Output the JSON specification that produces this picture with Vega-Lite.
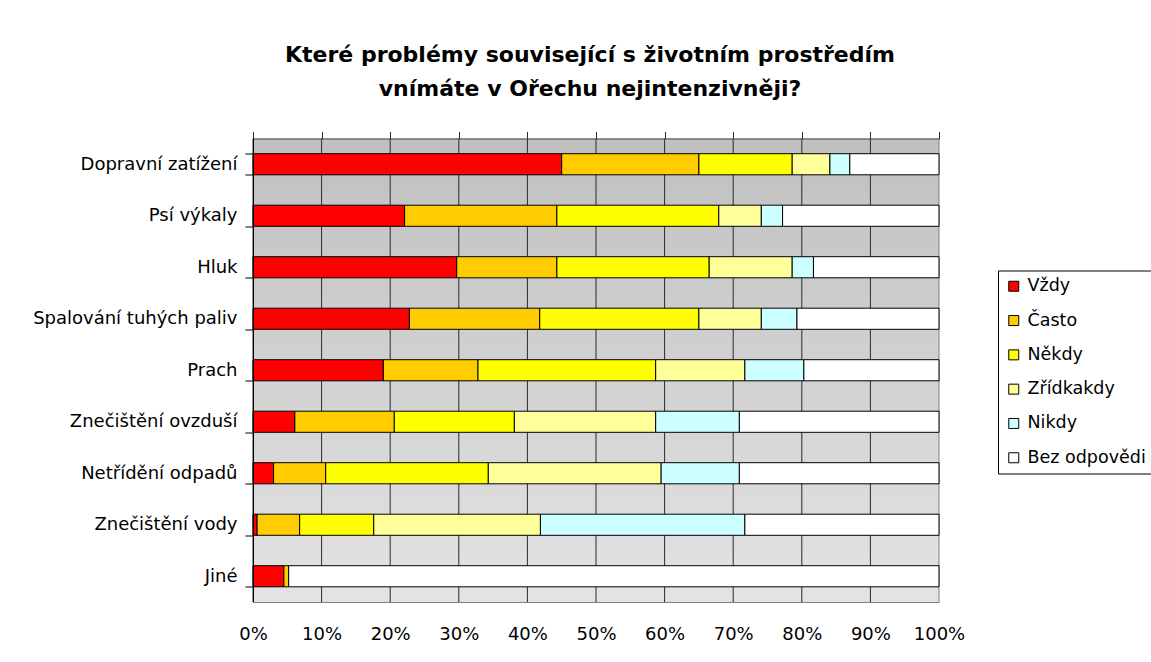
{
  "$schema": "https://vega.github.io/schema/vega-lite/v6.json",
  "width": 686,
  "height": 463.5,
  "autosize": {"type": "none"},
  "padding": {"left": 253, "top": 138.5, "right": 212, "bottom": 60},
  "background": "white",
  "title": {
    "text": ["Které problémy související s životním prostředím", "vnímáte v Ořechu nejintenzivněji?"],
    "font": "DejaVu Sans",
    "fontSize": 22,
    "fontWeight": "bold",
    "color": "black",
    "anchor": "middle",
    "frame": "group",
    "lineHeight": 34,
    "offset": 29,
    "dx": -6
  },
  "datasets": {
    "answers": [
      {"problem": "Dopravní zatížení", "resp": "Vždy", "ord": 1, "value": 45.0},
      {"problem": "Dopravní zatížení", "resp": "Často", "ord": 2, "value": 20.0},
      {"problem": "Dopravní zatížení", "resp": "Někdy", "ord": 3, "value": 13.6},
      {"problem": "Dopravní zatížení", "resp": "Zřídkakdy", "ord": 4, "value": 5.5},
      {"problem": "Dopravní zatížení", "resp": "Nikdy", "ord": 5, "value": 2.9},
      {"problem": "Dopravní zatížení", "resp": "Bez odpovědi", "ord": 6, "value": 13.0},
      {"problem": "Psí výkaly", "resp": "Vždy", "ord": 1, "value": 22.1},
      {"problem": "Psí výkaly", "resp": "Často", "ord": 2, "value": 22.2},
      {"problem": "Psí výkaly", "resp": "Někdy", "ord": 3, "value": 23.6},
      {"problem": "Psí výkaly", "resp": "Zřídkakdy", "ord": 4, "value": 6.2},
      {"problem": "Psí výkaly", "resp": "Nikdy", "ord": 5, "value": 3.1},
      {"problem": "Psí výkaly", "resp": "Bez odpovědi", "ord": 6, "value": 22.8},
      {"problem": "Hluk", "resp": "Vždy", "ord": 1, "value": 29.7},
      {"problem": "Hluk", "resp": "Často", "ord": 2, "value": 14.6},
      {"problem": "Hluk", "resp": "Někdy", "ord": 3, "value": 22.2},
      {"problem": "Hluk", "resp": "Zřídkakdy", "ord": 4, "value": 12.1},
      {"problem": "Hluk", "resp": "Nikdy", "ord": 5, "value": 3.1},
      {"problem": "Hluk", "resp": "Bez odpovědi", "ord": 6, "value": 18.3},
      {"problem": "Spalování tuhých paliv", "resp": "Vždy", "ord": 1, "value": 22.8},
      {"problem": "Spalování tuhých paliv", "resp": "Často", "ord": 2, "value": 19.0},
      {"problem": "Spalování tuhých paliv", "resp": "Někdy", "ord": 3, "value": 23.2},
      {"problem": "Spalování tuhých paliv", "resp": "Zřídkakdy", "ord": 4, "value": 9.1},
      {"problem": "Spalování tuhých paliv", "resp": "Nikdy", "ord": 5, "value": 5.2},
      {"problem": "Spalování tuhých paliv", "resp": "Bez odpovědi", "ord": 6, "value": 20.7},
      {"problem": "Prach", "resp": "Vždy", "ord": 1, "value": 19.0},
      {"problem": "Prach", "resp": "Často", "ord": 2, "value": 13.8},
      {"problem": "Prach", "resp": "Někdy", "ord": 3, "value": 25.9},
      {"problem": "Prach", "resp": "Zřídkakdy", "ord": 4, "value": 13.0},
      {"problem": "Prach", "resp": "Nikdy", "ord": 5, "value": 8.6},
      {"problem": "Prach", "resp": "Bez odpovědi", "ord": 6, "value": 19.7},
      {"problem": "Znečištění ovzduší", "resp": "Vždy", "ord": 1, "value": 6.1},
      {"problem": "Znečištění ovzduší", "resp": "Často", "ord": 2, "value": 14.5},
      {"problem": "Znečištění ovzduší", "resp": "Někdy", "ord": 3, "value": 17.5},
      {"problem": "Znečištění ovzduší", "resp": "Zřídkakdy", "ord": 4, "value": 20.6},
      {"problem": "Znečištění ovzduší", "resp": "Nikdy", "ord": 5, "value": 12.2},
      {"problem": "Znečištění ovzduší", "resp": "Bez odpovědi", "ord": 6, "value": 29.1},
      {"problem": "Netřídění odpadů", "resp": "Vždy", "ord": 1, "value": 3.0},
      {"problem": "Netřídění odpadů", "resp": "Často", "ord": 2, "value": 7.6},
      {"problem": "Netřídění odpadů", "resp": "Někdy", "ord": 3, "value": 23.7},
      {"problem": "Netřídění odpadů", "resp": "Zřídkakdy", "ord": 4, "value": 25.2},
      {"problem": "Netřídění odpadů", "resp": "Nikdy", "ord": 5, "value": 11.4},
      {"problem": "Netřídění odpadů", "resp": "Bez odpovědi", "ord": 6, "value": 29.1},
      {"problem": "Znečištění vody", "resp": "Vždy", "ord": 1, "value": 0.6},
      {"problem": "Znečištění vody", "resp": "Často", "ord": 2, "value": 6.2},
      {"problem": "Znečištění vody", "resp": "Někdy", "ord": 3, "value": 10.8},
      {"problem": "Znečištění vody", "resp": "Zřídkakdy", "ord": 4, "value": 24.3},
      {"problem": "Znečištění vody", "resp": "Nikdy", "ord": 5, "value": 29.8},
      {"problem": "Znečištění vody", "resp": "Bez odpovědi", "ord": 6, "value": 28.3},
      {"problem": "Jiné", "resp": "Vždy", "ord": 1, "value": 4.5},
      {"problem": "Jiné", "resp": "Často", "ord": 2, "value": 0.7},
      {"problem": "Jiné", "resp": "Bez odpovědi", "ord": 6, "value": 94.8}
    ],
    "gridlines": [
      {"t": 0}, {"t": 0.1}, {"t": 0.2}, {"t": 0.3}, {"t": 0.4}, {"t": 0.5},
      {"t": 0.6}, {"t": 0.7}, {"t": 0.8}, {"t": 0.9}
    ],
    "rightedge": [{"t": 1}],
    "plotarea": [{"name": "plot"}]
  },
  "layer": [
    {
      "data": {"name": "plotarea"},
      "mark": {
        "type": "rect",
        "fill": {
          "gradient": "linear",
          "x1": 0, "y1": 0, "x2": 0, "y2": 1,
          "stops": [
            {"offset": 0, "color": "#C0C0C0"},
            {"offset": 1, "color": "#E3E3E3"}
          ]
        }
      },
      "encoding": {}
    },
    {
      "data": {"name": "gridlines"},
      "mark": {"type": "rule", "color": "#2A2A2A", "strokeWidth": 1},
      "encoding": {
        "x": {
          "field": "t",
          "type": "quantitative",
          "scale": {"domain": [0, 1], "nice": false},
          "axis": {
            "orient": "top",
            "values": [0, 0.1, 0.2, 0.3, 0.4, 0.5, 0.6, 0.7, 0.8, 0.9, 1],
            "labels": false,
            "ticks": true,
            "tickSize": 7,
            "tickColor": "#2A2A2A",
            "domain": true,
            "domainColor": "#404040",
            "grid": false,
            "title": null,
            "zindex": 1
          }
        }
      }
    },
    {
      "data": {"name": "rightedge"},
      "mark": {"type": "rule", "color": "#808080", "strokeWidth": 1},
      "encoding": {
        "x": {"field": "t", "type": "quantitative", "axis": null}
      }
    },
    {
      "data": {"name": "answers"},
      "mark": {"type": "bar", "stroke": "black", "strokeWidth": 1},
      "encoding": {
        "y": {
          "field": "problem",
          "type": "nominal",
          "sort": null,
          "title": null,
          "scale": {"paddingInner": 0.59, "paddingOuter": 0.295},
          "axis": {
            "domainColor": "black",
            "tickColor": "black",
            "tickSize": 8,
            "tickBand": "extent",
            "labelFont": "DejaVu Sans",
            "labelFontSize": 18,
            "labelColor": "black",
            "labelPadding": 8,
            "labelLimit": 300,
            "zindex": 1
          }
        },
        "x": {
          "field": "value",
          "type": "quantitative",
          "stack": "normalize",
          "scale": {"domain": [0, 1], "nice": false},
          "axis": {
            "orient": "bottom",
            "values": [0, 0.1, 0.2, 0.3, 0.4, 0.5, 0.6, 0.7, 0.8, 0.9, 1],
            "format": ".0%",
            "labelFont": "DejaVu Sans",
            "labelFontSize": 18,
            "labelColor": "black",
            "labelPadding": 23,
            "labelFlush": false,
            "ticks": false,
            "domain": true,
            "domainColor": "#808080",
            "grid": false,
            "title": null,
            "zindex": 1
          }
        },
        "color": {
          "field": "resp",
          "type": "nominal",
          "scale": {
            "domain": ["Vždy", "Často", "Někdy", "Zřídkakdy", "Nikdy", "Bez odpovědi"],
            "range": ["#FF0000", "#FFCC00", "#FFFF00", "#FFFF99", "#CCFFFF", "#FFFFFF"]
          },
          "legend": {
            "title": null,
            "orient": "none",
            "legendX": 745,
            "legendY": 132,
            "padding": 7,
            "fillColor": "white",
            "strokeColor": "black",
            "cornerRadius": 0,
            "symbolType": "square",
            "symbolSize": 100,
            "symbolStrokeColor": "black",
            "symbolStrokeWidth": 1,
            "labelFont": "DejaVu Sans",
            "labelFontSize": 17.5,
            "labelColor": "black",
            "labelOffset": 5,
            "rowPadding": 15.3,
            "labelLimit": 300
          }
        },
        "order": {"field": "ord"}
      }
    }
  ],
  "resolve": {"axis": {"x": "independent"}},
  "config": {
    "font": "DejaVu Sans",
    "view": {"stroke": null}
  }
}
